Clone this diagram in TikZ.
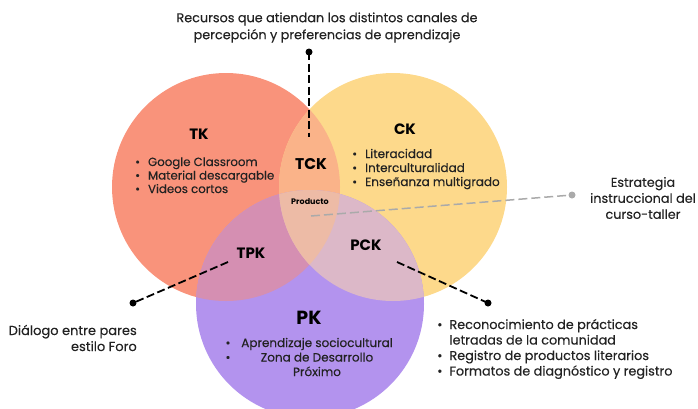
\documentclass[tikz,border=0pt]{standalone}
\usepackage{fontspec}
\setmainfont{Poppins}
\newfontfamily\bodyfont{Poppins}[FakeBold=0.25]
\definecolor{tkc}{HTML}{F9937B}
\definecolor{ckc}{HTML}{FDD98B}
\definecolor{pkc}{HTML}{B393EE}
\definecolor{tckc}{HTML}{FAB389}
\definecolor{tpkc}{HTML}{D58FB2}
\definecolor{pckc}{HTML}{DCB8C8}
\definecolor{midc}{HTML}{EDBBA6}
\definecolor{txt}{HTML}{222222}
\definecolor{graydot}{HTML}{AAAAAA}
\begin{document}
\begin{tikzpicture}[x=1pt,y=-1pt,
  lab/.style={font=\bfseries\fontsize{15}{17}\selectfont, text=black, inner sep=0pt},
  body/.style={text=txt, inner sep=0pt},
  bdot/.style={circle, fill=black, inner sep=0pt, minimum size=7pt},
  gdot/.style={circle, fill=graydot, inner sep=0pt, minimum size=7pt},
  bdash/.style={draw=black, line width=1.8pt, dash pattern=on 8pt off 3.5pt},
  gdash/.style={draw=graydot, line width=1.5pt, dash pattern=on 9pt off 4pt}]
\useasboundingbox (0,0) rectangle (698,408);
\clip (0,0) rectangle (698,408);
\def\R{114}
\coordinate (TKc) at (226,187);
\coordinate (CKc) at (393,187);
\coordinate (PKc) at (310,304);
% circles
\fill[tkc] (TKc) circle[radius=\R];
\fill[ckc] (CKc) circle[radius=\R];
\fill[pkc] (PKc) circle[radius=\R];
\begin{scope}
  \clip (TKc) circle[radius=\R];
  \fill[tckc] (CKc) circle[radius=\R];
  \fill[tpkc] (PKc) circle[radius=\R];
\end{scope}
\begin{scope}
  \clip (CKc) circle[radius=\R];
  \fill[pckc] (PKc) circle[radius=\R];
\end{scope}
\begin{scope}
  \clip (TKc) circle[radius=\R];
  \clip (CKc) circle[radius=\R];
  \fill[midc] (PKc) circle[radius=\R];
\end{scope}
% top text
\node[body, font=\bodyfont\fontsize{12.8}{17}\selectfont, align=center] (top) at (327,27.5)
  {Recursos que atiendan los distintos canales de\\percepción y preferencias de aprendizaje};
% labels
\node[lab] (tk) at (199,134) {TK};
\node[lab, font=\bfseries\fontsize{15.5}{17}\selectfont] (tck) at (311,164) {TCK};
\node[lab] (ck) at (405,129) {CK};
\node[lab] (tpk) at (251,253) {TPK};
\node[lab] (pck) at (366,245) {PCK};
\node[lab, font=\bfseries\fontsize{19}{21}\selectfont] (pk) at (309,318) {PK};
\node[font=\bfseries\fontsize{8}{9}\selectfont, inner sep=0pt] (prod) at (310,202) {Producto};
% lists
\node[body, font=\bodyfont\fontsize{11.8}{13.5}\selectfont, anchor=base west] (tklist) at (135,166)
  {\begin{tabular}[t]{@{}l@{\hspace{8pt}}l@{}}
   • & Google Classroom\\ • & Material descargable\\ • & Videos cortos
   \end{tabular}};
\node[body, font=\bodyfont\fontsize{12}{14}\selectfont, anchor=base west] (cklist) at (352,158)
  {\begin{tabular}[t]{@{}l@{\hspace{8pt}}l@{}}
   • & Literacidad\\ • & Interculturalidad\\ • & Enseñanza multigrado
   \end{tabular}};
\node[body, font=\bodyfont\fontsize{12}{14.5}\selectfont, anchor=base] (pklist) at (317,347)
  {\begin{tabular}[t]{@{}c@{}}
   Aprendizaje sociocultural\\ Zona de Desarrollo\\ Próximo
   \end{tabular}};
\node[body, font=\bodyfont\fontsize{12}{14.5}\selectfont, anchor=base] (pkbul) at (228,347)
  {\begin{tabular}[t]{@{}c@{}}•\\ •\end{tabular}};
\node[body, font=\bodyfont\fontsize{12.8}{15.5}\selectfont, anchor=base west] (pcklist) at (437,329)
  {\begin{tabular}[t]{@{}l@{\hspace{7pt}}l@{}}
   • & Reconocimiento de prácticas\\ & letradas de la comunidad\\
   • & Registro de productos literarios\\ • & Formatos de diagnóstico y registro
   \end{tabular}};
\node[body, font=\bodyfont\fontsize{13}{16}\selectfont, anchor=base east] (tpktext) at (137,335)
  {\begin{tabular}[t]{@{}r@{}}Diálogo entre pares\\ estilo Foro\end{tabular}};
\node[body, font=\bodyfont\fontsize{12.8}{16}\selectfont, align=center] (strat) at (643,198)
  {Estrategia\\ instruccional del\\ curso-taller};
% connectors
\node[bdot] (d1) at (309,52) {};
\coordinate (e1) at (309,137);
\draw[bdash] (d1.center) -- (e1);
\node[gdot] (d2) at (572,195) {};
\coordinate (e2) at (311,216);
\draw[gdash] (e2) -- (d2.center);
\node[bdot] (d3) at (133,303) {};
\coordinate (e3) at (228,262);
\draw[bdash] (e3) -- (d3.center);
\node[bdot] (d4) at (488,303) {};
\coordinate (e4) at (397,262);
\draw[bdash] (e4) -- (d4.center);
\end{tikzpicture}
\end{document}
